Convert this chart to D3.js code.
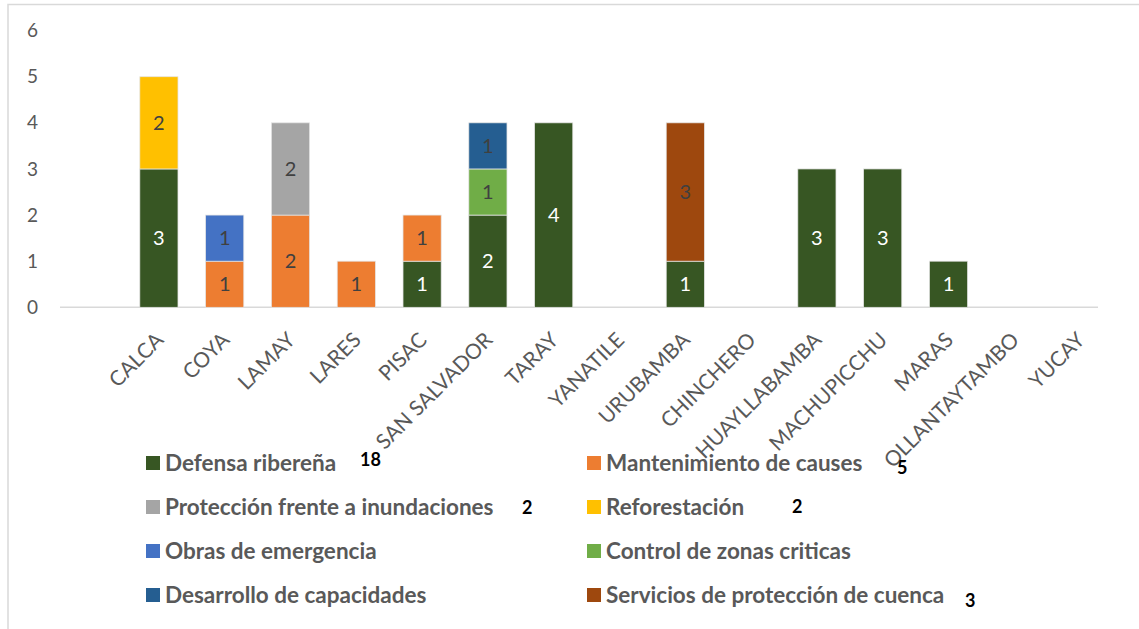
<!DOCTYPE html>
<html>
<head>
<meta charset="utf-8">
<script src="https://cdn.jsdelivr.net/npm/d3@7"></script>
<style>
  html, body { margin: 0; padding: 0; background: #fff; }
  svg { display: block; }
  text { font-family: Lato, "Open Sans", sans-serif; }
</style>
</head>
<body>
<svg id="chart" width="1139" height="629"></svg>
<script>
const categories = ["CALCA","COYA","LAMAY","LARES","PISAC","SAN SALVADOR","TARAY","YANATILE","URUBAMBA","CHINCHERO","HUAYLLABAMBA","MACHUPICCHU","MARAS","OLLANTAYTAMBO","YUCAY"];

const seriesNames = ["Defensa ribereña","Mantenimiento de causes","Protección frente a inundaciones","Reforestación","Obras de emergencia","Control de zonas criticas","Desarrollo de capacidades","Servicios de protección de cuenca"];

const defensaRiberena        = [3,0,0,0,1,2,4,0,1,0,3,3,1,0,0];
const mantenimientoCauses    = [0,1,2,1,1,0,0,0,0,0,0,0,0,0,0];
const proteccionInundaciones = [0,0,2,0,0,0,0,0,0,0,0,0,0,0,0];
const reforestacion          = [2,0,0,0,0,0,0,0,0,0,0,0,0,0,0];
const obrasEmergencia        = [0,1,0,0,0,0,0,0,0,0,0,0,0,0,0];
const controlZonasCriticas   = [0,0,0,0,0,1,0,0,0,0,0,0,0,0,0];
const desarrolloCapacidades  = [0,0,0,0,0,1,0,0,0,0,0,0,0,0,0];
const serviciosCuenca        = [0,0,0,0,0,0,0,0,3,0,0,0,0,0,0];

const legendTotals = ["18","5","2","2","","","","3"];
const yTicks = [0,1,2,3,4,5,6];

const seriesValues = [defensaRiberena, mantenimientoCauses, proteccionInundaciones, reforestacion,
                      obrasEmergencia, controlZonasCriticas, desarrolloCapacidades, serviciosCuenca];
const colors = ["#375623","#ED7D31","#A5A5A5","#FFC000","#4472C4","#70AD47","#255E91","#9E480E"];
const labelColors = ["#ffffff","#404040","#404040","#404040","#404040","#404040","#404040","#404040"];

const svg = d3.select("#chart");

// chart border (top and left visible)
svg.append("rect").attr("x", 8).attr("y", 4.5).attr("width", 1200).attr("height", 700)
  .attr("fill", "none").attr("stroke", "#d9d9d9").attr("stroke-width", 1.5);

const x = d3.scaleBand().domain(categories).range([126, 1113]).paddingInner(0.42).paddingOuter(0.21);
const y = d3.scaleLinear().domain([0, 6]).range([307.3, 30.6]);

// table for stacking
const table = categories.map((c, i) => {
  const o = { cat: c };
  seriesNames.forEach((s, j) => o[s] = seriesValues[j][i]);
  return o;
});
const stacked = d3.stack().keys(seriesNames)(table);

// y axis labels
const yAxis = d3.axisLeft(y).tickValues(yTicks).tickFormat(d3.format("d")).tickSize(0).tickPadding(0);
const gy = svg.append("g").attr("transform", "translate(38,0)").call(yAxis);
gy.select(".domain").remove();
gy.selectAll("text").attr("fill", "#595959").style("font-size", "19px")
  .style("font-family", "Lato, sans-serif");

// baseline
svg.append("line").attr("x1", 60).attr("x2", 1098).attr("y1", y(0)).attr("y2", y(0))
  .attr("stroke", "#d9d9d9").attr("stroke-width", 1.5);

// bars
const layers = svg.append("g").selectAll("g").data(stacked).join("g")
  .attr("fill", (d, i) => colors[i]);
layers.selectAll("rect").data(d => d.filter(p => p[1] - p[0] > 0)).join("rect")
  .attr("x", d => x(d.data.cat))
  .attr("width", x.bandwidth())
  .attr("y", d => y(d[1]))
  .attr("height", d => y(d[0]) - y(d[1]))
  .attr("stroke", "#e4e4e4").attr("stroke-width", 0.75);

// bar labels
stacked.forEach((layer, i) => {
  svg.append("g").selectAll("text").data(layer.filter(p => p[1] - p[0] > 0)).join("text")
    .attr("x", d => x(d.data.cat) + x.bandwidth() / 2)
    .attr("y", d => (y(d[0]) + y(d[1])) / 2)
    .attr("dy", "0.36em")
    .attr("text-anchor", "middle")
    .attr("fill", labelColors[i])
    .style("font-size", "20px")
    .text(d => d[1] - d[0]);
});

// category labels
const xAxis = d3.axisBottom(x).tickSize(0).tickPadding(0);
const gx = svg.append("g").attr("transform", `translate(0,${y(0)})`).call(xAxis);
gx.select(".domain").remove();
gx.selectAll(".tick text")
  .attr("fill", "#595959").style("font-size", "21px").style("font-family", "Lato, sans-serif")
  .attr("text-anchor", "end")
  .attr("dy", null).attr("y", 0)
  .attr("transform", "translate(6,34) rotate(-45)");

// legend
const legendX = [146, 587];
const legendY0 = 463, legendStep = 44;
const totalX = [360, 897, 522, 792, 0, 0, 0, 965];
const totalY = [466, 474, 514, 513, 0, 0, 0, 607];
const lg = svg.append("g");
seriesNames.forEach((s, i) => {
  const col = i % 2, row = Math.floor(i / 2);
  const cy = legendY0 + row * legendStep;
  lg.append("rect").attr("x", legendX[col]).attr("y", cy - 7).attr("width", 14).attr("height", 14)
    .attr("fill", colors[i]);
  lg.append("text").attr("x", legendX[col] + 19).attr("y", cy).attr("dy", "0.36em")
    .attr("fill", "#595959").style("font-size", "22.5px").style("font-weight", "bold").text(s);
  if (legendTotals[i]) {
    lg.append("text").attr("x", totalX[i]).attr("y", totalY[i])
      .attr("fill", "#000").style("font-size", "18px").style("font-weight", "bold")
      .text(legendTotals[i]);
  }
});
</script>
</body>
</html>
